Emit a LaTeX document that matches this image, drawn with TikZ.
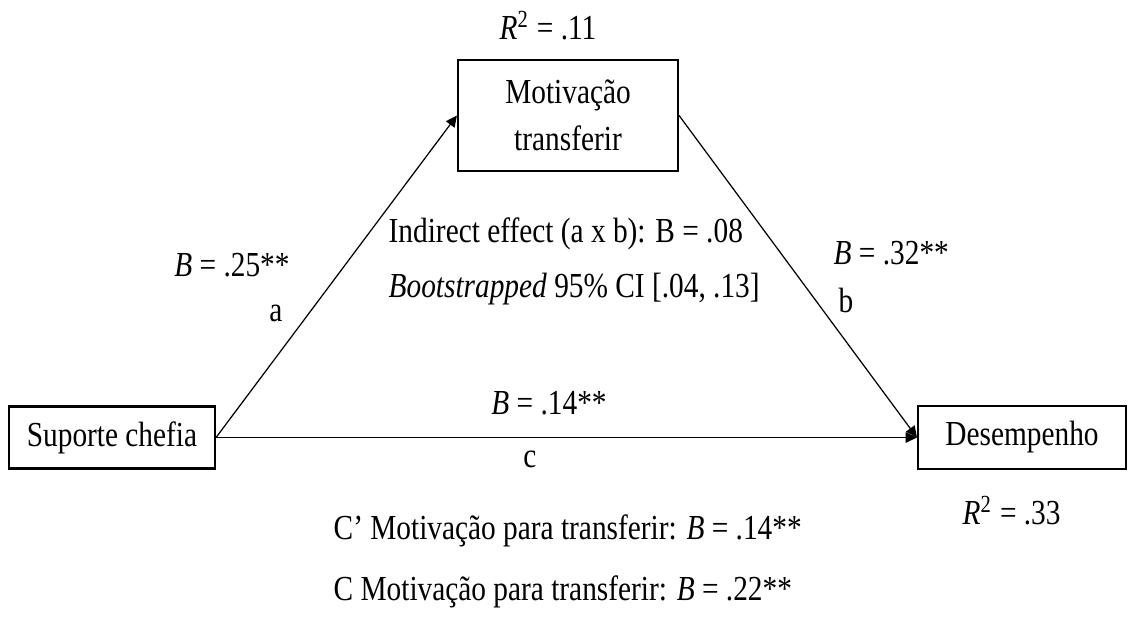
\documentclass[tikz,border=0pt]{standalone}
\usepackage{fontspec}
\setmainfont{Liberation Serif}[FakeStretch=0.835]
\usepackage{tikz}
\usetikzlibrary{arrows.meta, positioning}
\tikzstyle{var} = [rectangle, draw=black, line width=0.6pt, align=center, inner sep=0pt]
\tikzstyle{arrow} = [line width=0.35pt, -{Triangle[length=3.2pt, width=3pt]}]
\tikzstyle{lbl} = [inner sep=0pt, anchor=base]

\begin{document}
\begin{tikzpicture}[font=\fontsize{10}{13.4}\selectfont]
\useasboundingbox (0,0) rectangle (11.29,6.18);

\node (motiv) [var, minimum width=2.2cm, minimum height=1.11cm] at (5.68,5.025) {Motivação\\transferir};
\node (suporte) [var, minimum width=2.06cm, minimum height=0.62cm] at (1.12,1.805) {Suporte chefia};
\node (desemp) [var, minimum width=2.08cm, minimum height=0.63cm] at (10.22,1.805) {Desempenho};

\draw [arrow] (suporte.east) -- (motiv.west);
\draw [arrow] (motiv.east) -- (desemp.west);
\draw [arrow] (suporte.east) -- (desemp.west);

\node (r2top) [lbl] at (5.48,5.78) {\textit{R}\textsuperscript{2} = .11};
\node (ba) [lbl] at (2.32,3.41) {\textit{B} = .25**};
\node (la) [lbl] at (2.76,2.96) {a};
\node (indirect) [lbl, anchor=base west] at (3.88,3.75) {Indirect effect (a x b): B = .08};
\node (boot) [lbl, anchor=base west] at (3.88,3.20) {\textit{Bootstrapped} 95\% CI [.04, .13]};
\node (bb) [lbl, anchor=base west] at (8.33,3.53) {\textit{B} = .32**};
\node (lb) [lbl, anchor=base west] at (8.38,3.05) {b};
\node (bc) [lbl] at (5.49,2.03) {\textit{B} = .14**};
\node (lc) [lbl] at (5.30,1.50) {c};
\node (r2bot) [lbl, anchor=base west] at (9.62,0.93) {\textit{R}\textsuperscript{2} = .33};
\node (cprime) [lbl, anchor=base west] at (3.33,0.78) {C’ Motivação para transferir: \textit{B} = .14**};
\node (ctotal) [lbl, anchor=base west] at (3.33,0.18) {C Motivação para transferir: \textit{B} = .22**};

\end{tikzpicture}
\end{document}
